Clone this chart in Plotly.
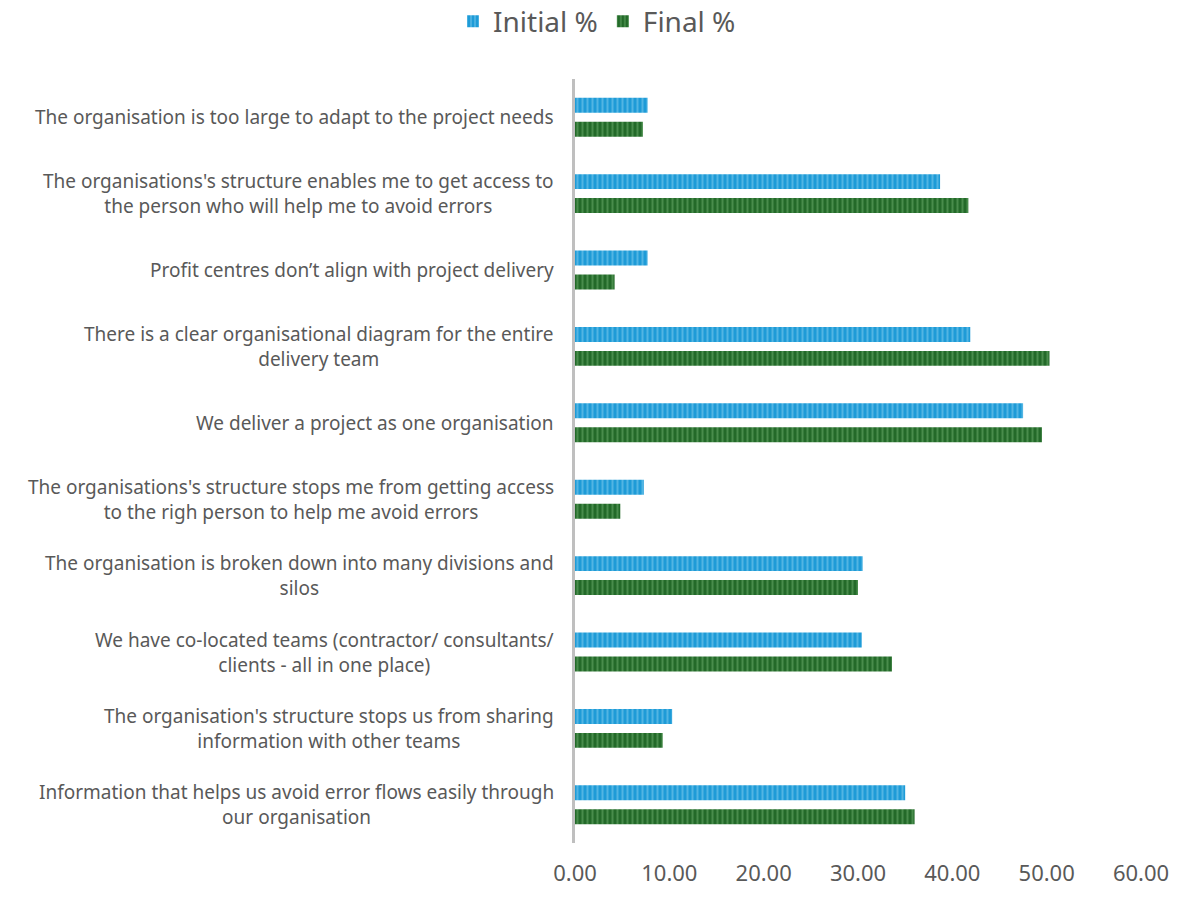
import plotly.graph_objects as go

categories = [
    "The organisation is too large to adapt to the project needs",
    "The organisations's structure enables me to get access to<br>the person who will help me to avoid errors",
    "Profit centres don’t align with project delivery",
    "There is a clear organisational diagram for the entire<br>delivery team",
    "We deliver a project as one organisation",
    "The organisations's structure stops me from getting access<br>to the righ person to help me avoid errors",
    "The organisation is broken down into many divisions and<br>silos",
    "We have co-located teams (contractor/ consultants/<br>clients - all in one place)",
    "The organisation's structure stops us from sharing<br>information with other teams",
    "Information that helps us avoid error flows easily through<br>our organisation",
]
initial_pct = [7.7, 38.7, 7.7, 41.9, 47.5, 7.3, 30.5, 30.4, 10.3, 35.0]
final_pct = [7.2, 41.7, 4.2, 50.3, 49.5, 4.8, 30.0, 33.6, 9.3, 36.0]
x_ticks = [0, 10, 20, 30, 40, 50, 60]

ids = list(range(len(categories)))
font_family = "Noto Sans, Open Sans, sans-serif"
text_color = "#595959"

fig = go.Figure()
fig.add_trace(go.Bar(
    name="Initial %", y=ids, x=initial_pct, orientation="h",
    marker=dict(color="#1E9BD7", line=dict(width=0),
                pattern=dict(shape="|", fgcolor="#86D0F0", bgcolor="#1E9BD7",
                             size=5, solidity=0.4, fillmode="overlay")),
))
fig.add_trace(go.Bar(
    name="Final %", y=ids, x=final_pct, orientation="h",
    marker=dict(color="#236A29", line=dict(width=0),
                pattern=dict(shape="|", fgcolor="#6FB06F", bgcolor="#236A29",
                             size=5, solidity=0.4, fillmode="overlay")),
))

# Category labels as centred multi-line annotations left of the axis
for i, label in zip(ids, categories):
    fig.add_annotation(
        x=0, xref="paper", y=i, yref="y", text=label, showarrow=False,
        xanchor="right", xshift=-19, align="center",
        font=dict(family=font_family, size=19, color=text_color),
    )

fig.update_layout(
    width=1194, height=899,
    margin=dict(l=575, r=53, t=79, b=54),
    paper_bgcolor="white", plot_bgcolor="white",
    barmode="group", bargap=0.374, bargroupgap=0.375,
    font=dict(family=font_family, color=text_color),
    legend=dict(orientation="h", x=0.5, xanchor="center", xref="container",
                y=0.976, yanchor="middle", yref="container",
                font=dict(size=28, color=text_color), itemwidth=30,
                traceorder="normal"),
    showlegend=True,
)
fig.update_xaxes(
    range=[0, 60], tickvals=x_ticks, ticktext=[f"{v:.2f}" for v in x_ticks],
    showgrid=False, zeroline=False, showline=False,
    ticks="outside", ticklen=11, tickcolor="rgba(0,0,0,0)",
    tickfont=dict(family=font_family, size=22, color=text_color),
)
fig.update_yaxes(
    range=[9.5, -0.5], showticklabels=False, showgrid=False, zeroline=False,
    showline=True, linecolor="#BFBFBF", linewidth=3,
)

fig.write_html("out.html")
